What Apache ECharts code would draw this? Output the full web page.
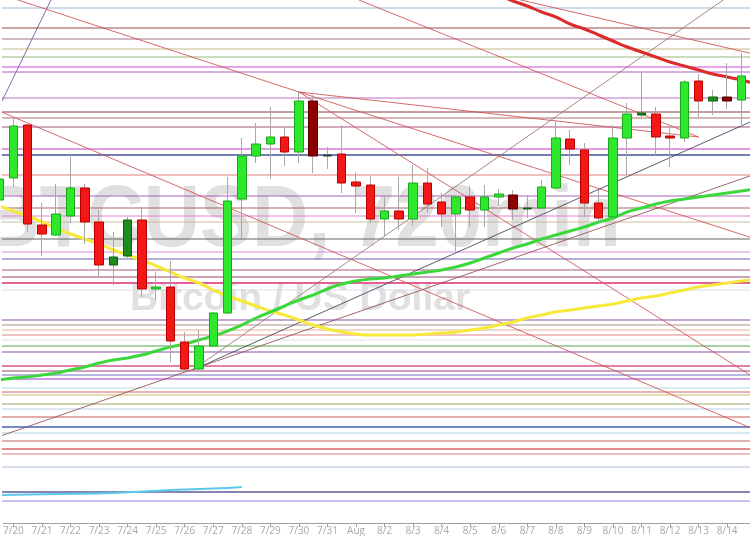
<!DOCTYPE html>
<html><head><meta charset="utf-8">
<script src="https://cdn.jsdelivr.net/npm/echarts@6/dist/echarts.min.js"></script>
<style>html,body{margin:0;padding:0;background:#fff}#c{width:750px;height:536px}</style>
</head><body><div id="c"></div>
<script>
// ---- data (x in days since 7/20, y in price units) ----
const dateLabels = ['7/20','7/21','7/22','7/23','7/24','7/25','7/26','7/27','7/28','7/29','7/30','7/31','Aug','8/2','8/3','8/4','8/5','8/6','8/7','8/8','8/9','8/10','8/11','8/12','8/13','8/14'];
const tickDays = [0,1,2,3,4,5,6,7,8,9,10,11,12,13,14,15,16,17,18,19,20,21,22,23,24,25];
const candleDays = [-0.5,0,0.5,1,1.5,2,2.5,3,3.5,4,4.5,5,5.5,6,6.5,7,7.5,8,8.5,9,9.5,10,10.5,11,11.5,12,12.5,13,13.5,14,14.5,15,15.5,16,16.5,17,17.5,18,18.5,19,19.5,20,20.5,21,21.5,22,22.5,23,23.5,24,24.5,25,25.5];
const openP  = [2846,2890,2996,2796,2776,2814,2870,2802,2716,2734,2806,2668,2672,2562,2508,2554,2620,2848,2934,2958,2972,2942,3044,2936,2938,2882,2876,2808,2824,2808,2880,2842,2818,2852,2826,2852,2856,2828,2830,2870,2968,2946,2840,2812,2970,3016,3018,2974,2970,3084,3044,3052,3046];
const closeP = [2888,2994,2798,2778,2818,2870,2802,2716,2732,2806,2668,2672,2564,2508,2554,2620,2844,2934,2958,2972,2942,3044,2934,2934,2880,2874,2808,2824,2808,2880,2838,2818,2852,2826,2852,2858,2828,2830,2872,2970,2948,2840,2810,2970,3018,3020,2972,2970,3082,3044,3052,3044,3094];
const lowP   = [2836,2872,2782,2734,2774,2800,2758,2692,2676,2730,2652,2644,2522,2504,2506,2552,2618,2768,2920,2888,2914,2920,2900,2908,2860,2820,2800,2772,2786,2794,2820,2792,2744,2792,2792,2834,2806,2810,2828,2866,2916,2812,2802,2810,2896,3012,2936,2912,2962,3012,3016,3028,2994];
const highP  = [2890,3012,2998,2840,2878,2936,2878,2826,2782,2812,2832,2702,2724,2582,2586,2622,2892,2970,3000,3032,2990,3062,3056,2952,2996,2902,2894,2854,2892,2916,2910,2860,2854,2874,2876,2868,2866,2856,2886,3006,2986,2960,2866,2996,3040,3102,3032,2992,3086,3098,3066,3120,3140];
const candleTone = ['g','g','r','r','g','g','r','r','dg','dg','r','g','r','r','g','g','g','g','g','g','r','g','dr','dt','r','r','r','g','r','g','r','r','g','r','g','g','dr','dg','g','g','r','r','r','g','g','dg','r','r','g','r','dg','dr','g'];

const maDays = [-0.5,0,0.5,1,1.5,2,2.5,3,3.5,4,4.5,5,5.5,6,6.5,7,7.5,8,8.5,9,9.5,10,10.5,11,11.5,12,12.5,13,13.5,14,14.5,15,15.5,16,16.5,17,17.5,18,18.5,19,19.5,20,20.5,21,21.5,22,22.5,23,23.5,24,24.5,25,25.5,26];
const yellowMA = [2834,2824,2814,2802,2790,2778,2768,2758,2746,2736,2726,2714,2702,2690,2680,2666,2654,2644,2634,2624,2616,2606,2596,2588,2582,2578,2576,2576,2576,2576,2578,2580,2582,2586,2590,2596,2602,2610,2616,2622,2626,2630,2634,2638,2644,2650,2654,2660,2666,2672,2676,2680,2684,2686];
const greenMA  = [2486,2490,2492,2496,2500,2506,2512,2520,2526,2530,2536,2544,2552,2558,2566,2574,2584,2596,2610,2622,2634,2646,2656,2668,2678,2684,2688,2690,2694,2698,2702,2706,2712,2720,2730,2740,2750,2758,2768,2776,2784,2792,2802,2810,2822,2830,2838,2844,2848,2852,2856,2860,2864,2868];
const redMADays = [16.5,17,17.5,18,18.5,19,19.5,20,20.5,21,21.5,22,22.5,23,23.5,24,24.5,25,25.5,26];
const redMA     = [3268,3256,3244,3234,3222,3212,3198,3188,3176,3164,3152,3142,3132,3122,3114,3106,3098,3092,3086,3078];
const cyanDays = [-0.5,1.5,3.5,5.5,7.5,8];
const cyanMA   = [2256,2258,2260,2266,2270,2272];

const levels = [3230,3190,3168,3148,3132,3112,3102,3050,3022,3010,2992,2948,2936,2896,2854,2830,2814,2802,2768,2742,2728,2706,2692,2680,2666,2606,2596,2586,2576,2566,2554,2542,2514,2504,2496,2488,2470,2462,2456,2438,2428,2412,2392,2380,2364,2348,2338,2312,2262,2244];
const levelColors = ['#c9d9e8','#8b3a3a','#9a6080','#bdb27a','#8fb070','#dd77dd','#a050b0','#b060c0','#7a2a2a','#a06060','#a04070','#e090e0','#6070a8','#e07070','#a050b0','#a05858','#dd77cc','#c8b898','#555555','#d880d8','#5555a8','#a04870','#903050','#e0508a','#d4dce4','#7a3a9a','#a08878','#d8a888','#e07878','#e0e0e0','#3a9a3a','#7a3a9a','#e070a0','#903060','#6060c0','#c890e0','#b0d8d8','#d05858','#c8b060','#90a050','#d8e4f0','#c04848','#3050b0','#a8cce0','#c05050','#e08080','#d87070','#d4dcea','#7878a8','#7878e8'];
const levelWidths = [2,1,1,1,1,1.5,1,1,1,1,1,2,2,1,1,1,1,1,1,1,1,1,1,2,1,1,1,1,1,1,1,1,2,1,1,2,1,1,1,1,2,1,1.5,1,1,2,1,2,2,1];
const levelSpan = [-1, 27];

// trend lines: [day1, price1, day2, price2]
const trendLines = [
  [-0.5,3032, 1.5,3268],
  [0,3249, 10,3062],
  [10,3062, 26,2489],
  [-0.5,3024, 26,2386],
  [10,3062, 26,2768],
  [10,3062, 24,2972],
  [12.1,3246, 24,2972],
  [17.4,3251, 26,3137],
  [6.276,2506, 24.86,3246],
  [6.276,2506, 26,3007],
  [-0.5,2373, 26,2898]
];
const trendColors = ['#7050a0','#d05050','#d05050','#d05050','#d05050','#d05050','#d05050','#d05050','#a07070','#404058','#905050'];

// ---- build ----
const toneStyle = {
  g:  ['#2ee82e','#18a818'],
  r:  ['#f21818','#b80000'],
  dg: ['#1e8c1e','#0f5f0f'],
  dr: ['#8c0000','#5a0000'],
  dt: ['#2e5a5a','#1e3a3a']
};
const wickData = candleDays.map((d,i)=>[d, openP[i], closeP[i], lowP[i], highP[i]]);
const bodyData = candleDays.map((d,i)=>{
  const s = toneStyle[candleTone[i]];
  return {value:[d, openP[i], closeP[i], Math.min(openP[i],closeP[i]), Math.max(openP[i],closeP[i])],
    itemStyle:{color:s[0], color0:s[0], borderColor:s[1], borderColor0:s[1], borderWidth:1}};
});
const zip = (xs, ys) => xs.map((x,i)=>[x, ys[i]]);

const series = [];
levels.forEach((v,i)=>{
  series.push({type:'line', data:[[levelSpan[0],v],[levelSpan[1],v]], showSymbol:false, symbol:'none', silent:true, z:1, clip:true,
    lineStyle:{color:levelColors[i], width:levelWidths[i], opacity:0.9}});
});
trendLines.forEach((t,i)=>{
  series.push({type:'line', data:[[t[0],t[1]],[t[2],t[3]]], showSymbol:false, symbol:'none', silent:true, z:2, clip:true,
    lineStyle:{color:trendColors[i], width:1, opacity:0.85}});
});
series.push({type:'line', data:zip(cyanDays,cyanMA), showSymbol:false, symbol:'none', smooth:true, silent:true, z:3, lineStyle:{color:'#5ec8ea', width:2}});
series.push({type:'line', data:zip(maDays,yellowMA), showSymbol:false, symbol:'none', smooth:true, silent:true, z:3, lineStyle:{color:'#f7e83a', width:3}});
series.push({type:'line', data:zip(maDays,greenMA), showSymbol:false, symbol:'none', smooth:true, silent:true, z:3, lineStyle:{color:'#3ad83a', width:3}});
series.push({type:'line', data:zip(redMADays,redMA), showSymbol:false, symbol:'none', smooth:true, silent:true, z:3, clip:true, lineStyle:{color:'#dd2a2a', width:3}});
series.push({type:'candlestick', data:wickData, barWidth:1, silent:true, z:4, encode:{x:0,y:[1,2,3,4]},
  itemStyle:{color:'#a8a8a8', color0:'#a8a8a8', borderColor:'#a8a8a8', borderColor0:'#a8a8a8', borderWidth:1}});
series.push({type:'candlestick', data:bodyData, barWidth:9, silent:true, z:5, encode:{x:0,y:[1,2,3,4]}});

const chart = echarts.init(document.getElementById('c'), null, {renderer:'canvas'});
chart.setOption({
  animation:false,
  backgroundColor:'#ffffff',
  grid:{left:0, right:0, top:0, bottom:13, containLabel:false},
  graphic:[
    {type:'text', z:0, x:302, y:222, scaleY:1.12, style:{text:'BTCUSD, 720min', font:'bold 78px "Liberation Sans", Arial, sans-serif', fill:'#e0e0e0', textAlign:'center', textVerticalAlign:'middle'}},
    {type:'text', z:0, x:300, y:299, style:{text:'Bitcoin / US Dollar', font:'bold 39px "Liberation Sans", Arial, sans-serif', fill:'#e0e0e0', textAlign:'center', textVerticalAlign:'middle'}}
  ],
  xAxis:{type:'value', min:-0.3487, max:25.8, splitLine:{show:false},
    axisLine:{show:true, onZero:false, lineStyle:{color:'#a0a0a0', width:1}},
    axisTick:{show:true, customValues:tickDays, length:4, lineStyle:{color:'#a0a0a0'}},
    axisLabel:{show:true, customValues:tickDays, margin:3, color:'#a8a8a8', fontSize:10, fontFamily:'"Open Sans", sans-serif',
      formatter:(v)=>dateLabels[Math.round(v)] || ''}},
  yAxis:{type:'value', min:2200, max:3246, show:false, splitLine:{show:false}},
  series: series
});
</script></body></html>
